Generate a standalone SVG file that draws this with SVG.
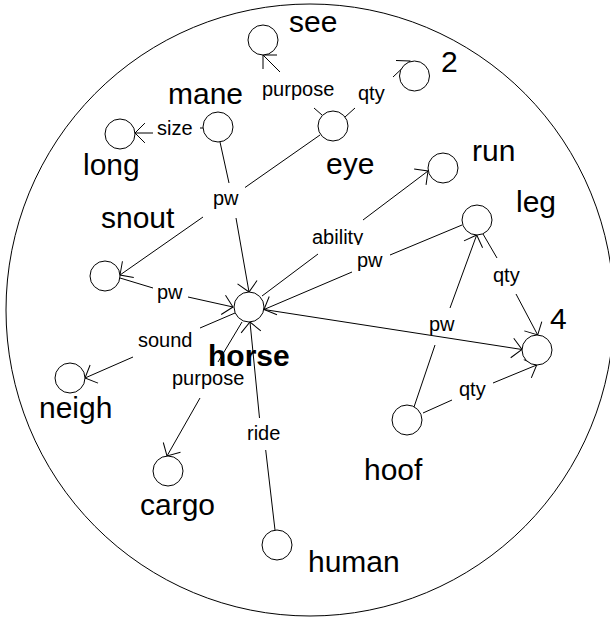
<svg xmlns="http://www.w3.org/2000/svg" width="610" height="618" viewBox="0 0 610 618">
<style>
.c{fill:#fff;stroke:#000;stroke-width:1}
.e{fill:none;stroke:#000;stroke-width:1}
.el{font-family:"Liberation Sans",Arial,sans-serif;font-size:20px;fill:#000}
.nl{font-family:"Liberation Sans",Arial,sans-serif;font-size:30px;fill:#000}
.b{font-weight:bold}
</style>
<defs>
<marker id="arr" viewBox="-12 -12 24 24" markerWidth="24" markerHeight="24" refX="0" refY="0" orient="auto" markerUnits="userSpaceOnUse" overflow="visible">
<path d="M-9.9,-9.9 L0,0 L-9.9,9.9" fill="none" stroke="#000" stroke-width="1"/>
</marker>
<clipPath id="clipAb"><rect x="300" y="220" width="80" height="25"/></clipPath>
</defs>
<ellipse cx="310" cy="310" rx="304" ry="306" fill="none" stroke="#000" stroke-width="1"/>
<g id="connectors">
<line class="e" x1="322" y1="115" x2="314" y2="108"/>
<line class="e" x1="280" y1="72" x2="263" y2="55" marker-end="url(#arr)"/>
<line class="e" x1="345" y1="117" x2="355" y2="108"/>
<line class="e" x1="393" y1="77" x2="410" y2="61" marker-end="url(#arr)"/>
<line class="e" x1="203" y1="128" x2="200" y2="128"/>
<line class="e" x1="153" y1="133" x2="135" y2="133" marker-end="url(#arr)"/>
<line class="e" x1="220" y1="142" x2="229" y2="183"/>
<line class="e" x1="236" y1="218" x2="249" y2="292" marker-end="url(#arr)"/>
<line class="e" x1="320" y1="135" x2="245" y2="187.5"/>
<line class="e" x1="203" y1="217" x2="120" y2="275" marker-end="url(#arr)"/>
<line class="e" x1="120" y1="278" x2="153" y2="288"/>
<line class="e" x1="188" y1="297" x2="233" y2="307" marker-end="url(#arr)"/>
<line class="e" x1="462" y1="225" x2="390" y2="255"/>
<line class="e" x1="352" y1="272" x2="264" y2="309.5" marker-end="url(#arr)"/>
<line class="e" x1="264" y1="309.5" x2="522" y2="349.5" marker-end="url(#arr)"/>
<line class="e" x1="262" y1="296" x2="318" y2="254"/>
<line class="e" x1="363" y1="220" x2="428" y2="171" marker-end="url(#arr)"/>
<line class="e" x1="235" y1="313" x2="200" y2="328"/>
<line class="e" x1="133" y1="357" x2="85" y2="378" marker-end="url(#arr)"/>
<line class="e" x1="242" y1="322" x2="218" y2="362"/>
<line class="e" x1="200" y1="398" x2="167" y2="456" marker-end="url(#arr)"/>
<line class="e" x1="275" y1="530" x2="265.7" y2="450"/>
<line class="e" x1="259.5" y1="418" x2="250" y2="322" marker-end="url(#arr)"/>
<line class="e" x1="483" y1="234" x2="497" y2="258"/>
<line class="e" x1="516" y1="294" x2="537.7" y2="335" marker-end="url(#arr)"/>
<line class="e" x1="414" y1="407" x2="435" y2="345"/>
<line class="e" x1="450" y1="308" x2="476.7" y2="235" marker-end="url(#arr)"/>
<line class="e" x1="423" y1="413" x2="452" y2="400"/>
<line class="e" x1="493" y1="383" x2="536.7" y2="365" marker-end="url(#arr)"/>
<text class="el" x="262" y="96">purpose</text>
<text class="el" x="358" y="100">qty</text>
<text class="el" x="157" y="135">size</text>
<text class="el" x="213" y="205">pw</text>
<text class="el" x="157" y="299">pw</text>
<text class="el" x="357" y="267">pw</text>
<text class="el" x="312" y="244" clip-path="url(#clipAb)">ability</text>
<text class="el" x="429" y="331">pw</text>
<text class="el" x="493" y="282">qty</text>
<text class="el" x="459" y="396">qty</text>
<text class="el" x="138" y="347">sound</text>
<text class="el" x="172" y="385">purpose</text>
<text class="el" x="247" y="440">ride</text>
</g>
<g id="node-see"><circle class="c" cx="263" cy="40" r="15"/><text class="nl" x="289" y="32">see</text></g>
<g id="node-2"><circle class="c" cx="414.5" cy="76" r="15"/><text class="nl" x="441" y="72">2</text></g>
<g id="node-mane"><circle class="c" cx="218" cy="127" r="15"/><text class="nl" x="168" y="104">mane</text></g>
<g id="node-long"><circle class="c" cx="120" cy="134" r="15"/><text class="nl" x="83" y="175">long</text></g>
<g id="node-eye"><circle class="c" cx="333" cy="126" r="15"/><text class="nl" x="326" y="174">eye</text></g>
<g id="node-run"><circle class="c" cx="443" cy="168" r="15"/><text class="nl" x="472" y="161">run</text></g>
<g id="node-leg"><circle class="c" cx="477" cy="220" r="15"/><text class="nl" x="516" y="212">leg</text></g>
<g id="node-snout"><circle class="c" cx="105" cy="276" r="15"/><text class="nl" x="101" y="228">snout</text></g>
<g id="node-4"><circle class="c" cx="537" cy="350" r="15"/><text class="nl" x="550" y="329">4</text></g>
<g id="node-neigh"><circle class="c" cx="70" cy="378" r="15"/><text class="nl" x="39" y="418">neigh</text></g>
<g id="node-cargo"><circle class="c" cx="168" cy="471" r="15"/><text class="nl" x="140" y="515">cargo</text></g>
<g id="node-hoof"><circle class="c" cx="407" cy="420" r="15"/><text class="nl" x="364" y="480">hoof</text></g>
<g id="node-human"><circle class="c" cx="277" cy="545" r="15"/><text class="nl" x="308" y="572">human</text></g>
<g id="node-horse"><circle class="c" cx="249" cy="307" r="15"/><text class="nl b" x="208" y="366">horse</text></g>
</svg>
